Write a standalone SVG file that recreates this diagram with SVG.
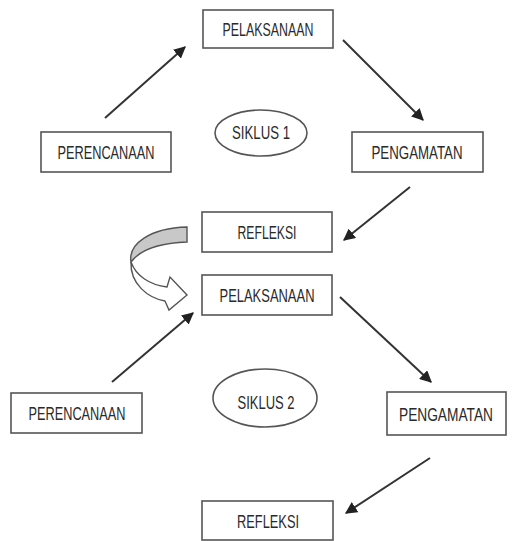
<svg xmlns="http://www.w3.org/2000/svg" width="515" height="541" viewBox="0 0 515 541">
<defs>
<style>
.box{fill:#fff;stroke:#555;stroke-width:1.6}
.lbl{font-family:"Liberation Sans",Arial,sans-serif;font-size:19px;fill:#2a2a2a;text-anchor:middle}
.con{stroke:#333;stroke-width:2;fill:none;marker-end:url(#ah)}
</style>
<marker id="ah" viewBox="0 0 10 10" refX="9" refY="5" markerWidth="6" markerHeight="6" orient="auto" markerUnits="strokeWidth">
<path d="M0,0 L10,5 L0,10 Z" fill="#222"/>
</marker>
</defs>
<rect width="515" height="541" fill="#fff"/>
<g id="pelaksanaan1"><rect class="box" x="203" y="10" width="130" height="38"/><text class="lbl" x="268" y="36" textLength="91" lengthAdjust="spacingAndGlyphs">PELAKSANAAN</text></g>
<g id="perencanaan1"><rect class="box" x="41" y="132" width="130" height="40"/><text class="lbl" x="106" y="159" textLength="97" lengthAdjust="spacingAndGlyphs">PERENCANAAN</text></g>
<g id="siklus1"><ellipse class="box" cx="261" cy="133" rx="46" ry="23"/><text class="lbl" x="261" y="139" textLength="58" lengthAdjust="spacingAndGlyphs">SIKLUS 1</text></g>
<g id="pengamatan1"><rect class="box" x="352" y="132" width="131" height="40"/><text class="lbl" x="417" y="159" textLength="91" lengthAdjust="spacingAndGlyphs">PENGAMATAN</text></g>
<g id="refleksi1"><rect class="box" x="202" y="212" width="130" height="40"/><text class="lbl" x="267" y="239" textLength="59" lengthAdjust="spacingAndGlyphs">REFLEKSI</text></g>
<g id="pelaksanaan2"><rect class="box" x="202" y="275" width="130" height="40"/><text class="lbl" x="267" y="302" textLength="95" lengthAdjust="spacingAndGlyphs">PELAKSANAAN</text></g>
<g id="perencanaan2"><rect class="box" x="11" y="393" width="131" height="40"/><text class="lbl" x="77" y="420" textLength="97" lengthAdjust="spacingAndGlyphs">PERENCANAAN</text></g>
<g id="siklus2"><ellipse class="box" cx="265" cy="398" rx="52" ry="29"/><text class="lbl" x="266" y="409" textLength="57" lengthAdjust="spacingAndGlyphs">SIKLUS 2</text></g>
<g id="pengamatan2"><rect class="box" x="387" y="392" width="119" height="43"/><text class="lbl" x="446" y="421" style="font-size:17.5px" textLength="94" lengthAdjust="spacingAndGlyphs">PENGAMATAN</text></g>
<g id="refleksi2"><rect class="box" x="202" y="501" width="131" height="39"/><text class="lbl" x="268" y="528" textLength="62" lengthAdjust="spacingAndGlyphs">REFLEKSI</text></g>
<g id="curved-arrow">
<path d="M187,227 L187,242 C160,243 140,250 131,262 C128,244 150,228 187,227 Z" fill="#c8c8c8" stroke="#555" stroke-width="1.4"/>
<path d="M131,262 C130,284 148,298 165,301 L169,310 L187,295 L170,277 L167,287 C150,285 136,276 131,262 Z" fill="#fff" stroke="#555" stroke-width="1.4"/>
</g>
<g id="connectors">
<line class="con" x1="105" y1="118" x2="185" y2="47"/>
<line class="con" x1="343" y1="40" x2="423" y2="120"/>
<line class="con" x1="410" y1="187" x2="344" y2="240"/>
<line class="con" x1="112" y1="382" x2="193" y2="313"/>
<line class="con" x1="340" y1="297" x2="431" y2="382"/>
<line class="con" x1="430" y1="458" x2="346" y2="513"/>
</g>
</svg>
